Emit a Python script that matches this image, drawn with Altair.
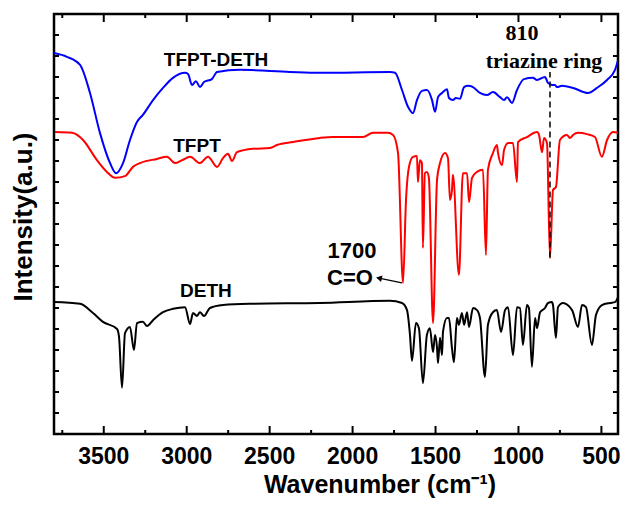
import altair as alt
import pandas as pd

# ---------------- data (wavenumber cm-1, intensity a.u.) ----------------
tfpt_deth_wn = [3800, 3722, 3643, 3583, 3523, 3462, 3426, 3384, 3342, 3300, 3264, 3203, 3143, 3083, 3010,
                2992, 2968, 2944, 2920, 2896, 2848, 2817, 2679, 2377, 2197, 1775, 1744, 1702, 1666, 1636,
                1612, 1582, 1552, 1521, 1503, 1485, 1461, 1431, 1419, 1395, 1377, 1353, 1328, 1304, 1274,
                1232, 1190, 1154, 1111, 1087, 1069, 1039, 1009, 967, 913, 888, 840, 822, 798, 780,
                768, 738, 671, 581, 527, 466, 418, 400]
tfpt_deth_int = [90.7, 89.8, 87.9, 81.2, 71.7, 64.5, 62.1, 64.5, 70.0, 74.3, 76.0, 79.5, 82.4, 84.8, 86.0,
                 85.7, 83.1, 84.0, 82.6, 83.8, 84.5, 86.2, 86.7, 86.2, 86.0, 86.2, 86.0, 81.9, 77.9, 76.4,
                 79.5, 81.7, 81.9, 79.5, 76.7, 80.2, 81.2, 82.1, 80.0, 79.5, 80.0, 79.8, 82.6, 82.9, 82.6,
                 81.2, 80.7, 81.4, 80.2, 79.5, 80.2, 78.8, 81.9, 84.5, 84.8, 84.3, 85.0, 83.6, 83.1, 83.1,
                 82.6, 82.9, 82.4, 81.2, 82.4, 84.3, 86.7, 89.0]

tfpt_wn = [3794, 3691, 3625, 3541, 3481, 3432, 3372, 3324, 3282, 3179, 3119, 3071, 3028, 2980, 2920,
           2872, 2817, 2781, 2751, 2727, 2697, 2600, 2498, 2456, 2359, 2197, 2118, 1937, 1877, 1787,
           1756, 1726, 1696, 1678, 1660, 1636, 1612, 1606, 1594, 1582, 1576, 1564, 1552, 1540, 1515,
           1491, 1473, 1443, 1425, 1413, 1401, 1395, 1359, 1335, 1310, 1298, 1280, 1250, 1214, 1196,
           1184, 1154, 1130, 1124, 1099, 1087, 1063, 1033, 1009, 1003, 949, 888, 876, 858, 846,
           828, 810, 792, 774, 750, 708, 690, 671, 641, 587, 539, 497, 466, 430, 400]
tfpt_int = [71.9, 71.7, 70.0, 65.2, 62.4, 61.0, 61.4, 63.6, 64.5, 65.5, 66.0, 64.5, 65.2, 66.0, 64.5,
            66.0, 63.6, 65.7, 66.7, 65.0, 67.1, 67.9, 68.1, 68.8, 69.5, 70.5, 70.7, 70.7, 71.7, 71.7,
            71.2, 66.9, 36.0, 55.7, 63.6, 66.0, 66.2, 60.0, 65.2, 64.5, 44.3, 62.1, 62.4, 61.0, 26.4,
            60.5, 64.5, 66.9, 65.7, 55.7, 58.1, 61.7, 37.9, 62.1, 62.1, 55.2, 61.0, 62.4, 62.9, 42.6,
            62.9, 66.9, 68.8, 67.1, 64.0, 67.6, 69.3, 69.3, 60.0, 69.5, 70.7, 71.9, 71.2, 67.1, 70.5,
            69.3, 41.9, 58.1, 58.8, 70.0, 71.2, 70.5, 71.2, 71.7, 71.4, 70.7, 66.0, 70.0, 71.9, 71.7]

deth_wn = [3800, 3643, 3565, 3505, 3420, 3408, 3390, 3372, 3342, 3318, 3300, 3264, 3239, 3203, 3143,
           3083, 3010, 2980, 2962, 2938, 2920, 2896, 2860, 2781, 2618, 2197, 1775, 1702, 1672, 1654,
           1642, 1618, 1600, 1576, 1552, 1534, 1515, 1503, 1491, 1485, 1473, 1461, 1455, 1431, 1419,
           1401, 1389, 1371, 1359, 1341, 1328, 1310, 1298, 1274, 1250, 1232, 1202, 1184, 1154, 1130,
           1105, 1081, 1063, 1033, 1009, 991, 973, 949, 937, 919, 900, 888, 870, 840, 822,
           798, 792, 774, 762, 732, 677, 641, 617, 593, 557, 533, 497, 448, 418, 400]
deth_int = [31.4, 31.0, 28.8, 26.7, 25.0, 23.1, 11.0, 24.0, 25.5, 20.0, 26.4, 26.7, 25.7, 27.1, 29.0,
            29.8, 30.2, 26.2, 28.8, 28.1, 29.0, 28.1, 30.0, 30.7, 31.0, 31.2, 31.7, 31.2, 29.5, 23.6,
            17.4, 26.4, 25.2, 12.1, 23.6, 25.2, 19.5, 23.6, 20.5, 16.9, 22.9, 18.8, 24.3, 27.6, 27.6,
            20.5, 17.1, 27.6, 26.0, 28.8, 26.0, 29.0, 25.5, 30.0, 29.5, 27.6, 13.6, 26.0, 29.0, 29.5,
            24.3, 29.5, 30.2, 18.8, 30.2, 30.0, 21.2, 30.7, 30.0, 16.0, 27.6, 25.2, 29.0, 30.0, 31.2,
            31.4, 30.7, 22.9, 30.2, 31.2, 29.5, 25.5, 30.7, 30.2, 21.2, 28.3, 30.7, 31.2, 31.4, 32.6]

series_names = ["TFPT-DETH", "TFPT", "DETH"]
series_colors = ["#0000ff", "#ff0000", "#000000"]

major_ticks = [3500, 3000, 2500, 2000, 1500, 1000, 500]
minor_ticks = [3750, 3250, 2750, 2250, 1750, 1250, 750]
y_ticks = [5, 10, 15, 20, 25, 30, 35, 40, 45, 50, 55, 60, 65, 70, 75, 80, 85, 90, 95]

# curve labels: text, wavenumber, intensity (baseline)
curve_label_text = ["TFPT-DETH", "TFPT", "DETH"]
curve_label_wn = [2823, 2938, 2884]
curve_label_int = [87.6, 67.1, 32.6]

co_text = ["1700", "C=O"]
co_wn = [2004, 2016]
co_int = [41.9, 35.5]

triazine_text = ["810", "triazine ring"]
triazine_wn = [979, 846]
triazine_int = [93.8, 87.1]

marker_wn = [810]
marker_int = [42.0]
marker_int2 = [86.2]

arrow_tail = [1702, 36.0]
arrow_head = [1841, 37.1]

# ---------------- build tables ----------------
rows = []
for name, wn, it in [("TFPT-DETH", tfpt_deth_wn, tfpt_deth_int),
                     ("TFPT", tfpt_wn, tfpt_int),
                     ("DETH", deth_wn, deth_int)]:
    assert len(wn) == len(it), name
    for i, (w, v) in enumerate(zip(wn, it)):
        rows.append({"s": name, "wn": w, "I": v, "i": i})
df = pd.DataFrame(rows)

W, H = 564, 420
xs = alt.Scale(domain=[400, 3800], reverse=True, nice=False, zero=False)
ys = alt.Scale(domain=[0, 100], nice=False, zero=False)
SANS = "Liberation Sans"
SERIF = "Liberation Serif"

lines = alt.Chart(df).mark_line(strokeWidth=2, clip=True, interpolate="monotone").encode(
    x=alt.X("wn:Q", scale=xs, axis=None),
    y=alt.Y("I:Q", scale=ys, axis=None),
    color=alt.Color("s:N", scale=alt.Scale(domain=series_names, range=series_colors), legend=None),
    detail="s:N",
    order="i:Q",
)

maj_df = pd.DataFrame({"v": major_ticks})
min_df = pd.DataFrame({"v": minor_ticks})
yt_df = pd.DataFrame({"v": y_ticks})

def xticks(d, y0, y1):
    return alt.Chart(d).mark_rule(color="black", strokeWidth=2).encode(
        x=alt.X("v:Q", scale=xs, axis=None), y=alt.value(y0), y2=alt.value(y1))

def yticks(x0, x1):
    return alt.Chart(yt_df).mark_rule(color="black", strokeWidth=2).encode(
        y=alt.Y("v:Q", scale=ys, axis=None), x=alt.value(x0), x2=alt.value(x1))

tick_layers = [
    xticks(maj_df, H, H - 8), xticks(min_df, H, H - 4),
    xticks(maj_df, 0, 8), xticks(min_df, 0, 4),
    yticks(0, 5), yticks(W, W - 5),
]

tick_labels = alt.Chart(maj_df).mark_text(font=SANS, fontWeight="bold", fontSize=23, color="black",
                                          align="center", baseline="alphabetic").encode(
    x=alt.X("v:Q", scale=xs, axis=None), y=alt.value(H + 30), text=alt.Text("v:Q", format="d"))

lab_df = pd.DataFrame({"t": curve_label_text, "wn": curve_label_wn, "I": curve_label_int})
curve_labels = alt.Chart(lab_df).mark_text(font=SANS, fontWeight="bold", fontSize=19,
                                            color="black", align="center", baseline="alphabetic").encode(
    x=alt.X("wn:Q", scale=xs, axis=None), y=alt.Y("I:Q", scale=ys, axis=None), text="t:N")

co_df = pd.DataFrame({"t": co_text, "wn": co_wn, "I": co_int})
co_labels = alt.Chart(co_df).mark_text(font=SANS, fontWeight="bold", fontSize=22,
                                       color="black", align="center", baseline="alphabetic").encode(
    x=alt.X("wn:Q", scale=xs, axis=None), y=alt.Y("I:Q", scale=ys, axis=None), text="t:N")

tz_df = pd.DataFrame({"t": triazine_text, "wn": triazine_wn, "I": triazine_int})
tz_labels = alt.Chart(tz_df).mark_text(font=SERIF, fontWeight="bold", fontSize=22,
                                       color="black", align="center", baseline="alphabetic").encode(
    x=alt.X("wn:Q", scale=xs, axis=None), y=alt.Y("I:Q", scale=ys, axis=None), text="t:N")

mk_df = pd.DataFrame({"wn": marker_wn, "I": marker_int, "I2": marker_int2})
dashed = alt.Chart(mk_df).mark_rule(color="black", strokeWidth=1.5, strokeDash=[6, 4]).encode(
    x=alt.X("wn:Q", scale=xs, axis=None), y=alt.Y("I:Q", scale=ys, axis=None), y2="I2:Q")

ar_df = pd.DataFrame({"x": [arrow_tail[0]], "y": [arrow_tail[1]],
                      "x2": [arrow_head[0]], "y2": [arrow_head[1]]})
arrow_line = alt.Chart(ar_df).mark_rule(color="black", strokeWidth=1.2).encode(
    x=alt.X("x:Q", scale=xs, axis=None), y=alt.Y("y:Q", scale=ys, axis=None), x2="x2:Q", y2="y2:Q")
arrow_head_mark = alt.Chart(ar_df).mark_point(shape="triangle-left", filled=True, color="black",
                                              size=45, angle=13, opacity=1).encode(
    x=alt.X("x2:Q", scale=xs, axis=None), y=alt.Y("y2:Q", scale=ys, axis=None))

x_title = alt.Chart(pd.DataFrame({"t": ["Wavenumber (cm\u207b\u00b9)"]})).mark_text(
    font=SANS, fontWeight="bold", fontSize=25, color="black", align="center", baseline="alphabetic"
).encode(x=alt.value(326), y=alt.value(479), text="t:N")

y_title = alt.Chart(pd.DataFrame({"t": ["Intensity(a.u.)"]})).mark_text(
    font=SANS, fontWeight="bold", fontSize=26, color="black", align="center", baseline="alphabetic",
    angle=270
).encode(x=alt.value(-22), y=alt.value(203), text="t:N")

chart = alt.layer(
    lines, *tick_layers, tick_labels, dashed, curve_labels, co_labels, tz_labels, arrow_line,
    arrow_head_mark, x_title, y_title
).properties(
    width=W, height=H,
    autosize=alt.AutoSizeParams(type="none"),
    padding={"left": 46, "top": 6, "right": 2, "bottom": 70},
).configure_view(stroke="black", strokeWidth=2.5)

chart.save("out.html", embed_options={"renderer": "svg", "actions": False})
